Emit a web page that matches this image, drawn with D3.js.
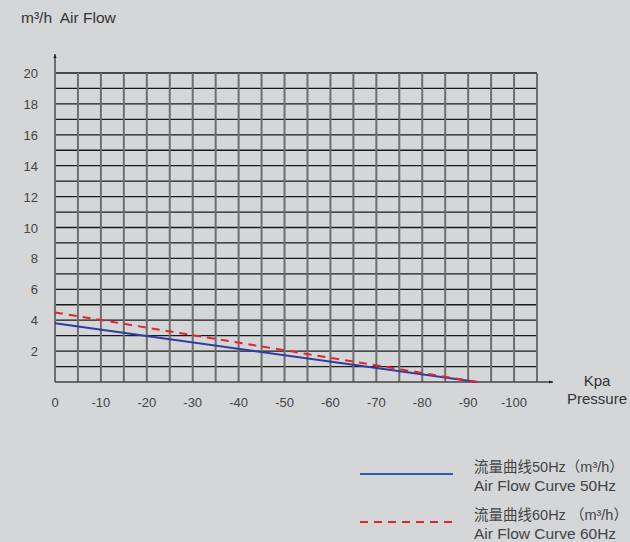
<!DOCTYPE html>
<html>
<head>
<meta charset="utf-8">
<script src="https://cdn.jsdelivr.net/npm/d3@7"></script>
<style>
body { margin: 0; background: #d5d6d8; }
text { font-family: "Liberation Sans", Arial, "Noto Sans CJK SC", sans-serif; }
</style>
</head>
<body>
<div id="chart"></div>
<script>
var w = 630;
var h = 542;

// data
var pressure = [0, -92];
var flow50 = [3.8, 0];
var flow60 = [4.5, 0];
var xTicks = [0, -10, -20, -30, -40, -50, -60, -70, -80, -90, -100];
var yTicks = [2, 4, 6, 8, 10, 12, 14, 16, 18, 20];
var legendCn = ["流量曲线50Hz（m³/h）", "流量曲线60Hz （m³/h）"];
var legendEn = ["Air Flow Curve 50Hz", "Air Flow Curve 60Hz"];

var x = d3.scaleLinear().domain([0, -105]).range([55, 537]);
var y = d3.scaleLinear().domain([0, 20]).range([382, 73]);

var svg = d3.select("#chart")
    .append("svg")
    .attr("width", w)
    .attr("height", h);

svg.append("defs").append("marker")
    .attr("id", "arrow")
    .attr("viewBox", "0 0 10 10")
    .attr("refX", 10).attr("refY", 5)
    .attr("markerWidth", 4).attr("markerHeight", 4)
    .attr("markerUnits", "userSpaceOnUse")
    .attr("orient", "auto")
    .append("path")
    .attr("d", "M0,1L10,5L0,9Z")
    .attr("fill", "#222");

// horizontal grid (every 1)
svg.selectAll("line.hgrid")
    .data(d3.range(1, 21))
    .enter()
    .append("line")
    .attr("class", "hgrid")
    .attr("x1", x(0)).attr("x2", x(-105))
    .attr("y1", function(d) { return y(d); })
    .attr("y2", function(d) { return y(d); })
    .attr("stroke", "#1a1a1a")
    .attr("stroke-width", 1.3);

// vertical grid (every 5)
svg.selectAll("line.vgrid")
    .data(d3.range(-5, -106, -5))
    .enter()
    .append("line")
    .attr("class", "vgrid")
    .attr("x1", function(d) { return x(d); })
    .attr("x2", function(d) { return x(d); })
    .attr("y1", y(0)).attr("y2", y(20))
    .attr("stroke", "#6e6e6e")
    .attr("stroke-width", 2);

// axes with arrows
svg.append("line")
    .attr("x1", x(0)).attr("x2", x(0))
    .attr("y1", y(0)).attr("y2", 54)
    .attr("stroke", "#6e6e6e").attr("stroke-width", 2)
    .attr("marker-end", "url(#arrow)");
svg.append("line")
    .attr("x1", x(0)).attr("x2", 553)
    .attr("y1", y(0)).attr("y2", y(0))
    .attr("stroke", "#444").attr("stroke-width", 1.3)
    .attr("marker-end", "url(#arrow)");

// tick labels
svg.selectAll("text.xt")
    .data(xTicks)
    .enter()
    .append("text")
    .attr("class", "xt")
    .text(function(d) { return d; })
    .attr("x", function(d) { return x(d); })
    .attr("y", 407)
    .attr("text-anchor", "middle")
    .attr("font-size", "13px")
    .attr("fill", "#444");

svg.selectAll("text.yt")
    .data(yTicks)
    .enter()
    .append("text")
    .attr("class", "yt")
    .text(function(d) { return d; })
    .attr("x", 38)
    .attr("y", function(d) { return y(d) + 5; })
    .attr("text-anchor", "end")
    .attr("font-size", "13px")
    .attr("fill", "#444");

svg.append("text").text("m³/h  Air Flow")
    .attr("x", 21).attr("y", 23)
    .style("white-space", "pre")
    .attr("font-size", "15.5px").attr("fill", "#333");
svg.append("text").text("Kpa")
    .attr("x", 597).attr("y", 386)
    .attr("text-anchor", "middle")
    .attr("font-size", "15px").attr("fill", "#333");
svg.append("text").text("Pressure")
    .attr("x", 597).attr("y", 404)
    .attr("text-anchor", "middle")
    .attr("font-size", "15px").attr("fill", "#333");

// curves
var line = d3.line()
    .x(function(d) { return x(d[0]); })
    .y(function(d) { return y(d[1]); });

svg.append("path")
    .datum(d3.zip(pressure, flow50))
    .attr("d", line)
    .attr("fill", "none")
    .attr("stroke", "#2d3f9e")
    .attr("stroke-width", 2);

svg.append("path")
    .datum(d3.zip(pressure, flow60))
    .attr("d", line)
    .attr("fill", "none")
    .attr("stroke", "#e5242b")
    .attr("stroke-width", 2)
    .attr("stroke-dasharray", "8,6");

// legend
var lg = svg.selectAll("g.legend")
    .data([0, 1])
    .enter()
    .append("g")
    .attr("class", "legend")
    .attr("transform", function(d) { return "translate(0," + (d * 48) + ")"; });

lg.append("line")
    .attr("x1", 360).attr("x2", 453)
    .attr("y1", 474).attr("y2", 474)
    .attr("stroke", function(d) { return d == 0 ? "#2d5db1" : "#e5242b"; })
    .attr("stroke-width", 2)
    .attr("stroke-dasharray", function(d) { return d == 0 ? null : "8,6"; });

lg.append("text")
    .text(function(d) { return legendCn[d]; })
    .attr("x", 474).attr("y", 472)
    .style("white-space", "pre")
    .attr("font-size", "14.5px")
    .attr("fill", "#444");

lg.append("text")
    .text(function(d) { return legendEn[d]; })
    .attr("x", 474).attr("y", 491)
    .attr("font-size", "15.5px")
    .attr("fill", "#444");
</script>
</body>
</html>
